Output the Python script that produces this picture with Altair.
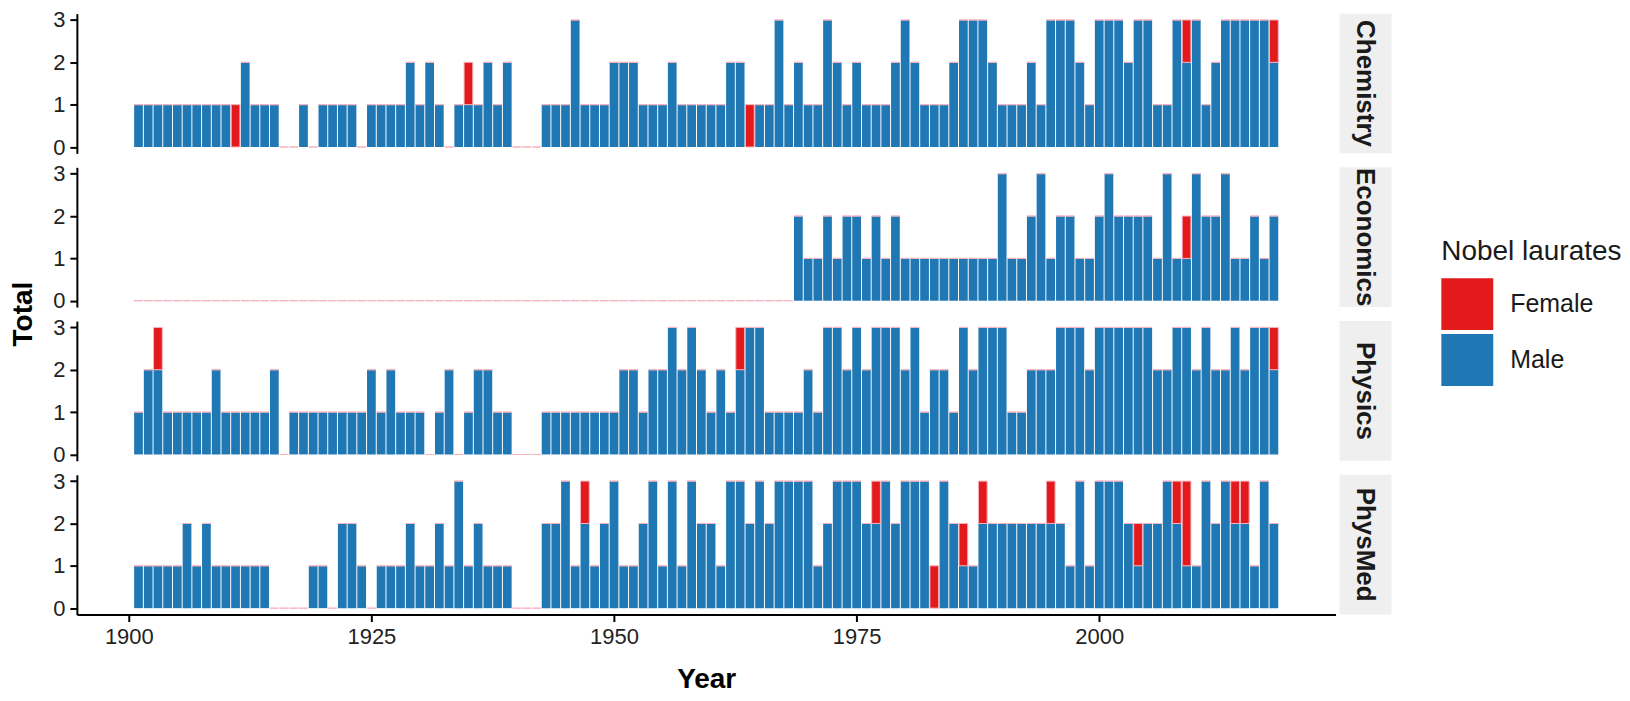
import altair as alt
import pandas as pd

YEARS = list(range(1901, 2019))
CATEGORIES = ["Chemistry", "Economics", "Physics", "PhysMed"]
SEXES = ["Female", "Male"]
COLORS = ["#E31A1C", "#1F78B4"]

# Male laureates per year, 1901-2018 (by decade)
chem_male = [
    1, 1, 1, 1, 1, 1, 1, 1, 1, 1,
    0, 2, 1, 1, 1, 0, 0, 1, 0, 1,
    1, 1, 1, 0, 1, 1, 1, 1, 2, 1,
    2, 1, 0, 1, 1, 1, 2, 1, 2, 0,
    0, 0, 1, 1, 1, 3, 1, 1, 1, 2,
    2, 2, 1, 1, 1, 2, 1, 1, 1, 1,
    1, 2, 2, 0, 1, 1, 3, 1, 2, 1,
    1, 3, 2, 1, 2, 1, 1, 1, 2, 3,
    2, 1, 1, 1, 2, 3, 3, 3, 2, 1,
    1, 1, 2, 1, 3, 3, 3, 2, 1, 3,
    3, 3, 2, 3, 3, 1, 1, 3, 2, 3,
    1, 2, 3, 3, 3, 3, 3, 2,
]
econ_male = [0] * 68 + [
    2, 1,
    1, 2, 1, 2, 2, 1, 2, 1, 2, 1,
    1, 1, 1, 1, 1, 1, 1, 1, 1, 3,
    1, 1, 2, 3, 1, 2, 2, 1, 1, 2,
    3, 2, 2, 2, 2, 1, 3, 1, 1, 3,
    2, 2, 3, 1, 1, 2, 1, 2,
]
phys_male = [
    1, 2, 2, 1, 1, 1, 1, 1, 2, 1,
    1, 1, 1, 1, 2, 0, 1, 1, 1, 1,
    1, 1, 1, 1, 2, 1, 2, 1, 1, 1,
    0, 1, 2, 0, 1, 2, 2, 1, 1, 0,
    0, 0, 1, 1, 1, 1, 1, 1, 1, 1,
    2, 2, 1, 2, 2, 3, 2, 3, 2, 1,
    2, 1, 2, 3, 3, 1, 1, 1, 1, 2,
    1, 3, 3, 2, 3, 2, 3, 3, 3, 2,
    3, 1, 2, 2, 1, 3, 2, 3, 3, 3,
    1, 1, 2, 2, 2, 3, 3, 3, 2, 3,
    3, 3, 3, 3, 3, 2, 2, 3, 3, 2,
    3, 2, 2, 3, 2, 3, 3, 2,
]
med_male = [
    1, 1, 1, 1, 1, 2, 1, 2, 1, 1,
    1, 1, 1, 1, 0, 0, 0, 0, 1, 1,
    0, 2, 2, 1, 0, 1, 1, 1, 2, 1,
    1, 2, 1, 3, 1, 2, 1, 1, 1, 0,
    0, 0, 2, 2, 3, 1, 2, 1, 2, 3,
    1, 1, 2, 3, 1, 3, 1, 3, 2, 2,
    1, 3, 3, 2, 3, 2, 3, 3, 3, 3,
    1, 2, 3, 3, 3, 2, 2, 3, 2, 3,
    3, 3, 0, 3, 2, 1, 1, 2, 2, 2,
    2, 2, 2, 2, 2, 2, 1, 3, 1, 3,
    3, 3, 2, 1, 2, 2, 3, 2, 1, 1,
    3, 2, 3, 2, 2, 1, 3, 2,
]

# Female laureates (year: count); all other years 0
chem_female = {1911: 1, 1935: 1, 1964: 1, 2009: 1, 2018: 1}
econ_female = {2009: 1}
phys_female = {1903: 1, 1963: 1, 2018: 1}
med_female = {1947: 1, 1977: 1, 1983: 1, 1986: 1, 1988: 1, 1995: 1,
              2004: 1, 2008: 1, 2009: 2, 2014: 1, 2015: 1}

MALE = dict(zip(CATEGORIES, [chem_male, econ_male, phys_male, med_male]))
FEMALE = dict(zip(CATEGORIES, [chem_female, econ_female, phys_female, med_female]))

rows = []
for cat in CATEGORIES:
    for i, yr in enumerate(YEARS):
        rows.append({"category": cat, "year": yr, "sex": "Male", "ord": 0,
                     "count": MALE[cat][i]})
        rows.append({"category": cat, "year": yr, "sex": "Female", "ord": 1,
                     "count": FEMALE[cat].get(yr, 0)})
df = pd.DataFrame(rows)

W, H = 1261, 140
FONT = "Liberation Sans"

bars = alt.Chart().transform_stack(
    stack="count", groupby=["category", "year"], as_=["y0", "y1"],
    sort=[alt.SortField("ord", order="ascending")],
).transform_calculate(
    x0="datum.year - 0.45", x1="datum.year + 0.45"
).mark_rect(strokeWidth=1).encode(
    x=alt.X("x0:Q",
            scale=alt.Scale(domain=[1894.65, 2024.35], nice=False, zero=False),
            axis=alt.Axis(values=[1900, 1925, 1950, 1975, 2000], format="d",
                          title="Year")),
    x2="x1:Q",
    y=alt.Y("y0:Q", scale=alt.Scale(domain=[-0.15, 3.15], nice=False, zero=False),
            axis=alt.Axis(values=[0, 1, 2, 3], format="d", title=None)),
    y2="y1:Q",
    color=alt.Color("sex:N", scale=alt.Scale(domain=SEXES, range=COLORS),
                    legend=alt.Legend(title="Nobel laurates", orient="none",
                                      legendX=1367, legendY=225,
                                      titleLimit=400, labelLimit=300)),
    stroke=alt.condition("datum.sex == 'Female'", alt.value("#F6B3BE"),
                         alt.value("transparent")),
)

strip_bg = alt.Chart().transform_filter(
    "datum.year == 1901 && datum.sex == 'Male'"
).mark_rect(color="#EFEFEF").encode(
    x=alt.value(W + 4), x2=alt.value(W + 56), y=alt.value(0), y2=alt.value(H)
)

strip_txt = alt.Chart().transform_filter(
    "datum.year == 1901 && datum.sex == 'Male'"
).mark_text(angle=90, align="center", baseline="middle", fontSize=26,
            fontWeight="bold", font=FONT, color="#1A1A1A").encode(
    x=alt.value(W + 30), y=alt.value(H / 2), text="category:N"
)

chart = alt.layer(bars, strip_bg, strip_txt, data=df).properties(
    width=W, height=H
).facet(
    row=alt.Row("category:N", sort=CATEGORIES,
                header=alt.Header(labels=False, title="Total", titleFontSize=28,
                                  titleFontWeight="bold", titleFont=FONT,
                                  titleColor="#000000", titlePadding=4)),
    spacing=14,
).configure(
    padding={"left": 2, "top": 0, "right": 0, "bottom": 0},
).configure_view(
    stroke=None
).configure_axis(
    grid=False, domainColor="#000000", domainWidth=2, tickColor="#000000",
    tickWidth=2, tickSize=7, labelFont=FONT, labelFontSize=22,
    labelColor="#222222", labelPadding=5, titleFont=FONT, titleFontSize=28,
    titleFontWeight="bold", titleColor="#000000", titlePadding=18,
).configure_legend(
    titleFont=FONT, titleFontSize=28, titleFontWeight="normal",
    titleColor="#1A1A1A", labelFont=FONT, labelFontSize=25,
    labelColor="#1A1A1A", symbolType="square", symbolSize=2704,
    symbolStrokeWidth=0, labelOffset=17, rowPadding=4, titlePadding=12,
    symbolOpacity=1, padding=0,
)

chart.save("out.html", embed_options={"renderer": "svg", "actions": False})
